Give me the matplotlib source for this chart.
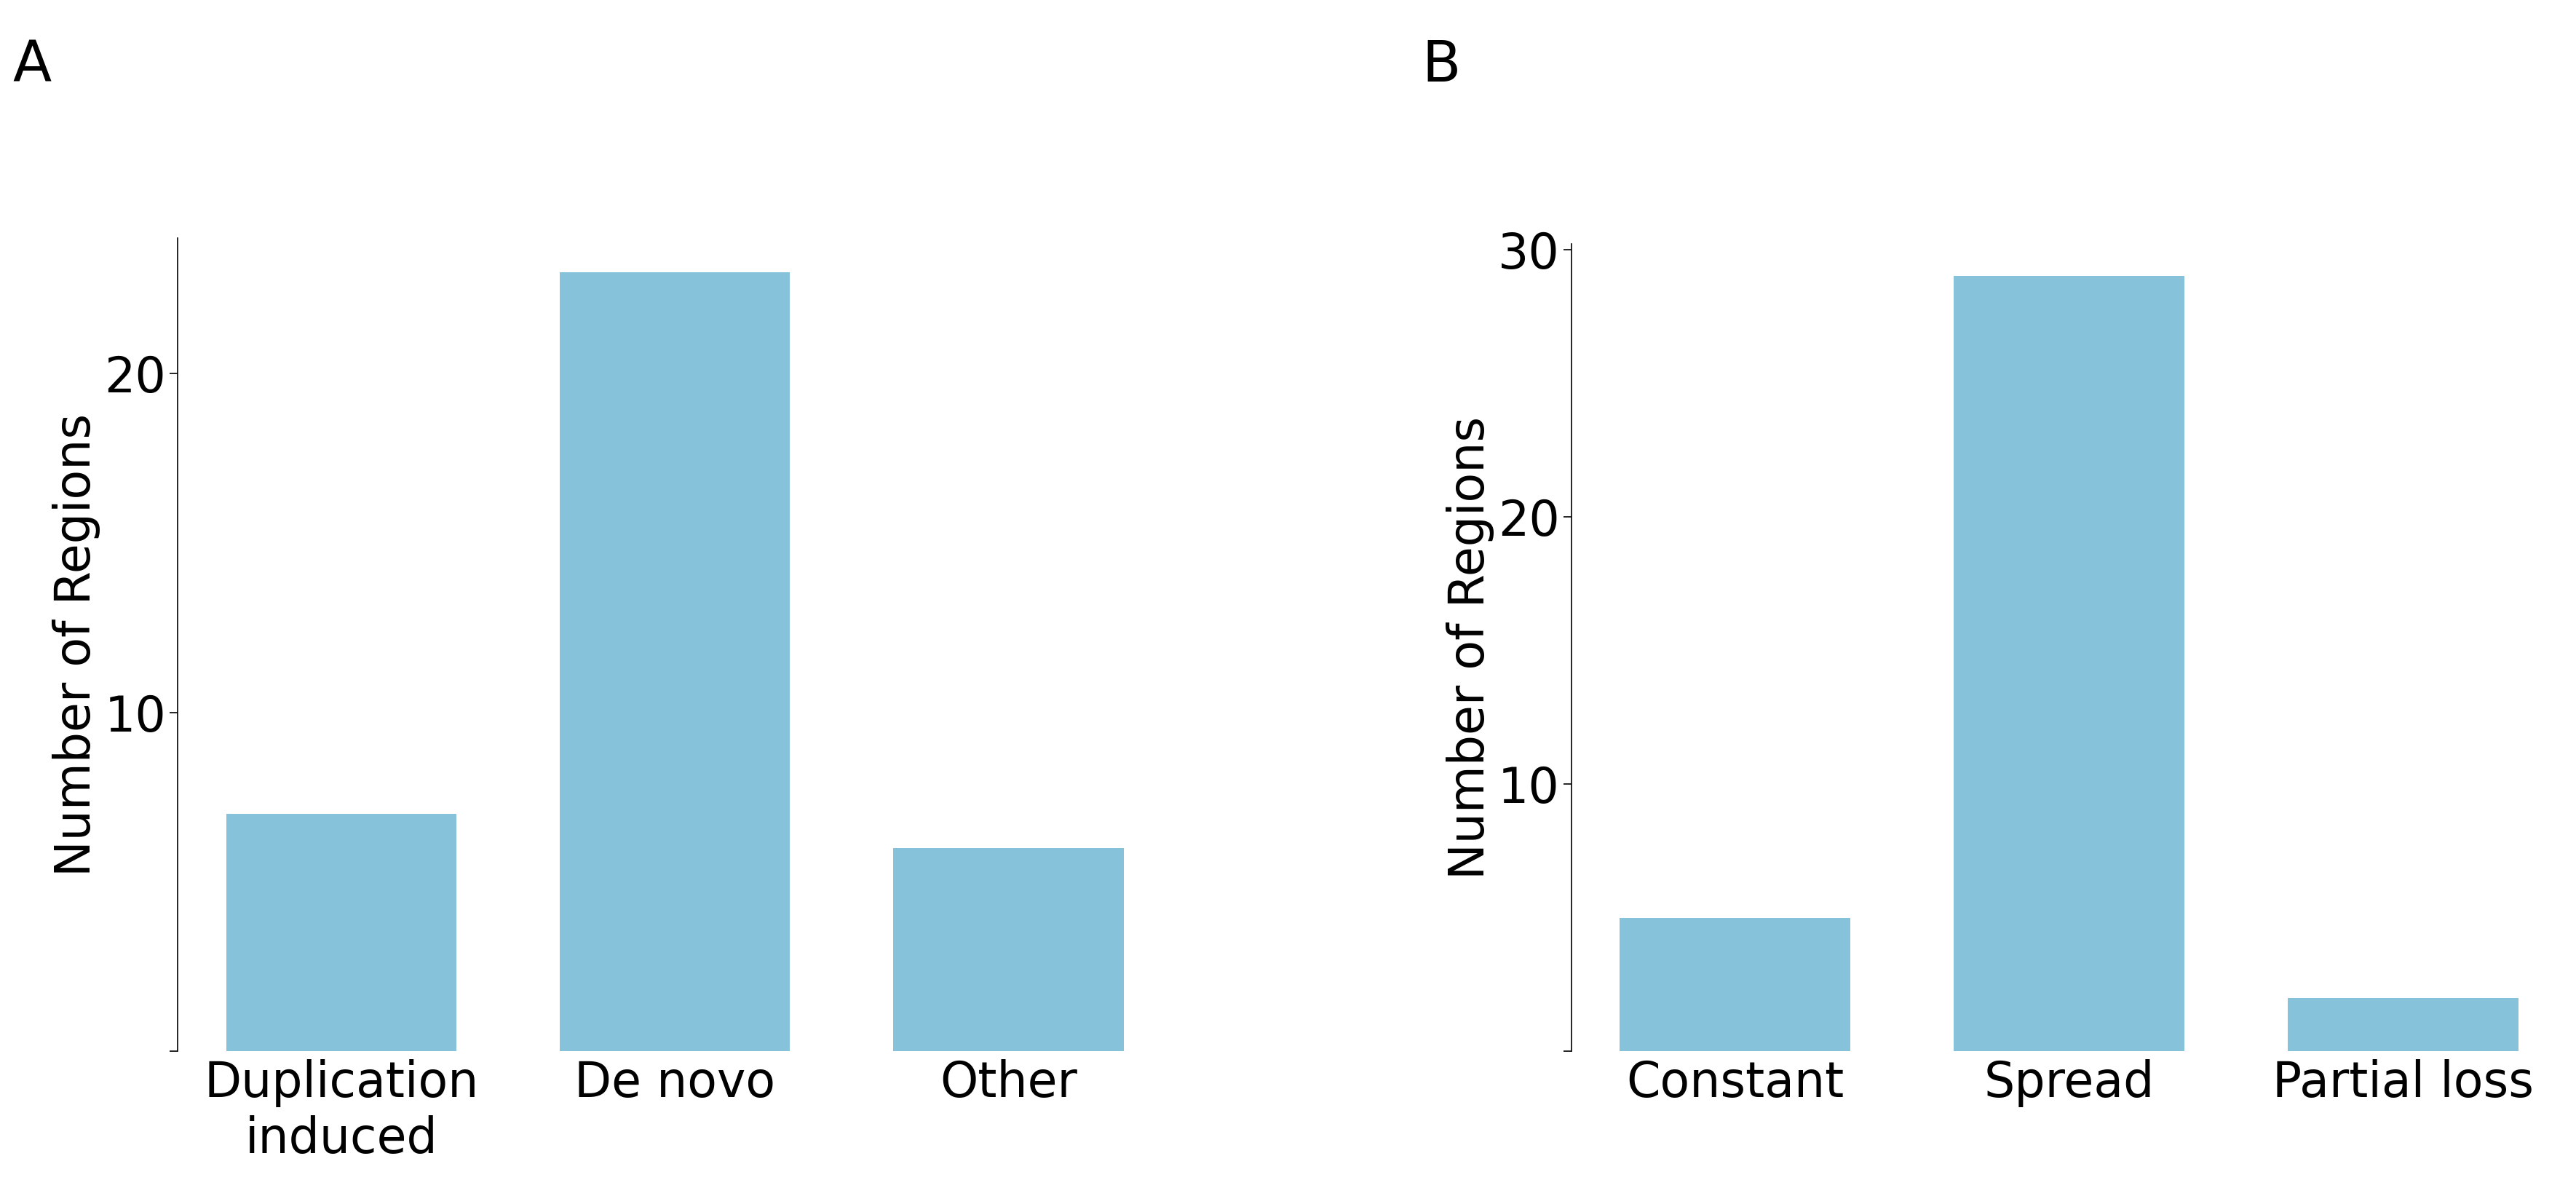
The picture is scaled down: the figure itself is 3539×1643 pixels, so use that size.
import matplotlib
matplotlib.use("Agg")
import matplotlib.pyplot as plt

cats_a = ["Duplication\ninduced", "De novo", "Other"]
vals_a = [7, 23, 6]
cats_b = ["Constant", "Spread", "Partial loss"]
vals_b = [5, 29, 2]
color = "#86c2da"

fig = plt.figure(figsize=(35.39, 16.43), dpi=100)
axA = fig.add_axes([0.069, 0.121, 0.386, 0.68])
axB = fig.add_axes([0.610, 0.121, 0.3865, 0.675])

def style(ax, cats, vals, ymax, ticks):
    x = range(len(cats))
    ax.bar(x, vals, width=0.69, color=color)
    ax.set_xlim(-0.49, len(cats) - 0.51)
    ax.set_ylim(0, ymax)
    ax.set_yticks([0] + ticks)
    ax.set_yticklabels([""] + [str(t) for t in ticks])
    ax.set_xticks(list(x))
    ax.set_xticklabels(cats)
    for s in ["top", "right", "bottom"]:
        ax.spines[s].set_visible(False)
    ax.spines["left"].set_linewidth(1.2)
    ax.tick_params(axis="y", labelsize=48, length=8, width=1.2)
    ax.tick_params(axis="x", labelsize=48, length=0, pad=8)
    ax.set_ylabel("Number of Regions", fontsize=48)

style(axA, cats_a, vals_a, 24, [10, 20])
style(axB, cats_b, vals_b, 30.2, [10, 20, 30])

fig.text(0.005, 0.945, "A", fontsize=56, va="center")
fig.text(0.552, 0.945, "B", fontsize=56, va="center")
fig.savefig("out.png", dpi=100)
